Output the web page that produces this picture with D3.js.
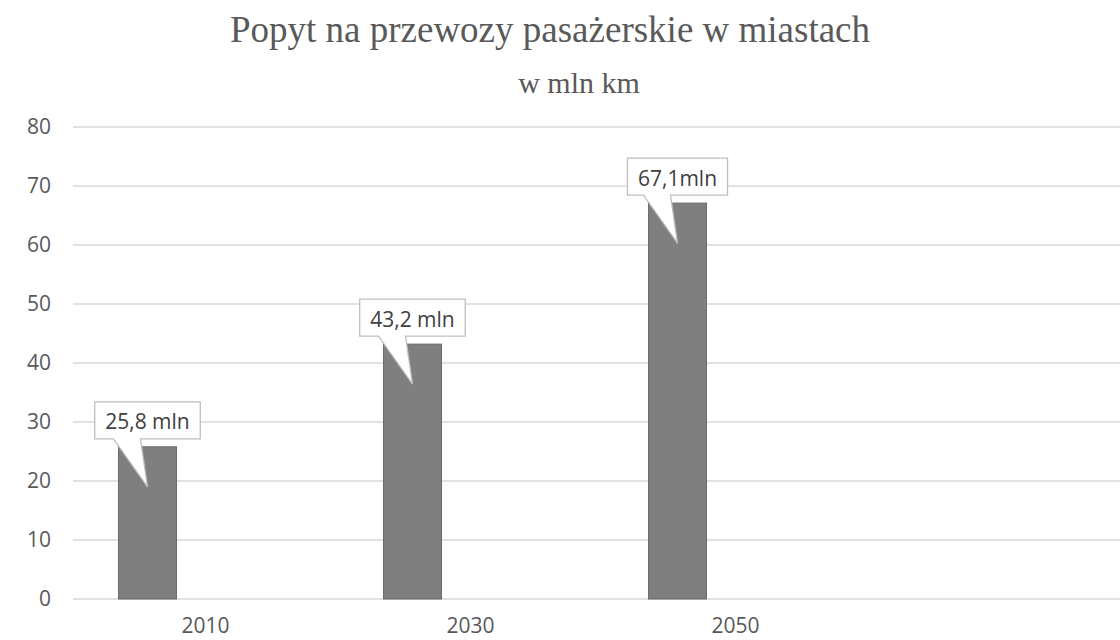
<!DOCTYPE html>
<html>
<head>
<meta charset="utf-8">
<script src="https://cdn.jsdelivr.net/npm/d3@7"></script>
<style>
  body { margin: 0; background: #fff; }
  svg { display: block; }
</style>
</head>
<body>
<div id="chart"></div>
<script>
// chart values
const categories = ["2010", "2030", "2050", ""];
const seriesNames = ["Seria 1", "Seria 2", "Seria 3"];
const values = [25.8, 43.2, 67.1, null];
const labels = ["25,8 mln", "43,2 mln", "67,1mln", ""];
const yTicks = [0, 10, 20, 30, 40, 50, 60, 70, 80];
const titleText = "Popyt na przewozy pasażerskie w miastach";
const subtitleText = "w mln km";

// layout
const svgWidth = 1120;
const svgHeight = 640;
const margin = { top: 127, right: -13, bottom: 41, left: 73 };
const width = svgWidth - margin.left - margin.right;
const height = svgHeight - margin.top - margin.bottom;

const svg = d3.select("#chart")
    .append("svg")
    .attr("width", svgWidth)
    .attr("height", svgHeight);

const g = svg.append("g")
    .attr("transform", `translate(${margin.left},${margin.top})`);

// scales
const y = d3.scaleLinear()
    .domain([0, 80])
    .range([height, 0]);

const x0 = d3.scaleBand()
    .domain(categories)
    .range([0, width]);

// three series per category like excel, gap width ~157%
const x1 = d3.scaleBand()
    .domain(seriesNames)
    .range([0, x0.bandwidth()])
    .paddingOuter(0.784);

// gridlines
g.append("g")
    .selectAll("line")
    .data(yTicks)
    .enter()
    .append("line")
    .attr("x1", 0)
    .attr("x2", width)
    .attr("y1", d => y(d))
    .attr("y2", d => y(d))
    .attr("stroke", "#d9d9d9")
    .attr("stroke-width", 1.4);

// y axis labels
const yAxis = g.append("g")
    .call(d3.axisLeft(y).tickValues(yTicks).tickSize(0).tickPadding(22));
yAxis.select(".domain").remove();
yAxis.selectAll("text")
    .attr("font-family", "'Open Sans', sans-serif")
    .attr("font-size", "21px")
    .attr("fill", "#595959");

// x axis labels - the reference crops them at the bottom edge, keep them just inside
const xAxis = g.append("g")
    .attr("transform", `translate(0,${height})`)
    .call(d3.axisBottom(x0).tickSize(0).tickPadding(19));
xAxis.select(".domain").remove();
xAxis.selectAll("text")
    .attr("font-family", "'Open Sans', sans-serif")
    .attr("font-size", "21px")
    .attr("fill", "#595959");

const barData = categories.map((c, i) => ({ cat: c, value: values[i], label: labels[i] }))
    .filter(d => d.value != null);

// bars (only first series has data)
g.selectAll(".bar")
    .data(barData)
    .enter()
    .append("rect")
    .attr("class", "bar")
    .attr("x", d => x0(d.cat) + x1(seriesNames[0]))
    .attr("y", d => y(d.value))
    .attr("width", x1.bandwidth())
    .attr("height", d => height - y(d.value))
    .attr("fill", "#7f7f7f")
    .attr("stroke", "#6b6b6b")
    .attr("stroke-width", 1);

// callout labels
const callouts = g.selectAll(".callout")
    .data(barData)
    .enter()
    .append("g")
    .attr("class", "callout");

callouts.each(function (d) {
    const cg = d3.select(this);
    const cx = x0(d.cat) + x1(seriesNames[0]) + x1.bandwidth() / 2;
    const barTop = y(d.value);
    const boxH = 37;
    const boxBottom = barTop - 8;
    const boxTop = boxBottom - boxH;

    const path = cg.append("path");
    const txt = cg.append("text")
        .text(d.label)
        .attr("x", cx)
        .attr("y", boxTop + 27.5)
        .attr("text-anchor", "middle")
        .attr("font-family", "'Open Sans', sans-serif")
        .attr("font-size", "21px")
        .attr("fill", "#404040");

    const w = txt.node().getComputedTextLength() + 21;
    const left = cx - w / 2;
    const right = cx + w / 2;
    const tipY = barTop + 40;

    path.attr("d", `M${left},${boxTop} H${right} V${boxBottom} H${cx - 7} L${cx},${tipY} L${cx - 34},${boxBottom} H${left} Z`)
        .attr("fill", "#ffffff")
        .attr("stroke", "#bfbfbf")
        .attr("stroke-width", 1.3);
});

// titles
svg.append("text")
    .text(titleText)
    .attr("x", 550)
    .attr("y", 42)
    .attr("text-anchor", "middle")
    .attr("font-family", "'Liberation Serif', 'Times New Roman', serif")
    .attr("font-size", "37px")
    .attr("fill", "#595959");

svg.append("text")
    .text(subtitleText)
    .attr("x", 579)
    .attr("y", 93)
    .attr("text-anchor", "middle")
    .attr("font-family", "'Liberation Serif', 'Times New Roman', serif")
    .attr("font-size", "30px")
    .attr("fill", "#595959");
</script>
</body>
</html>
